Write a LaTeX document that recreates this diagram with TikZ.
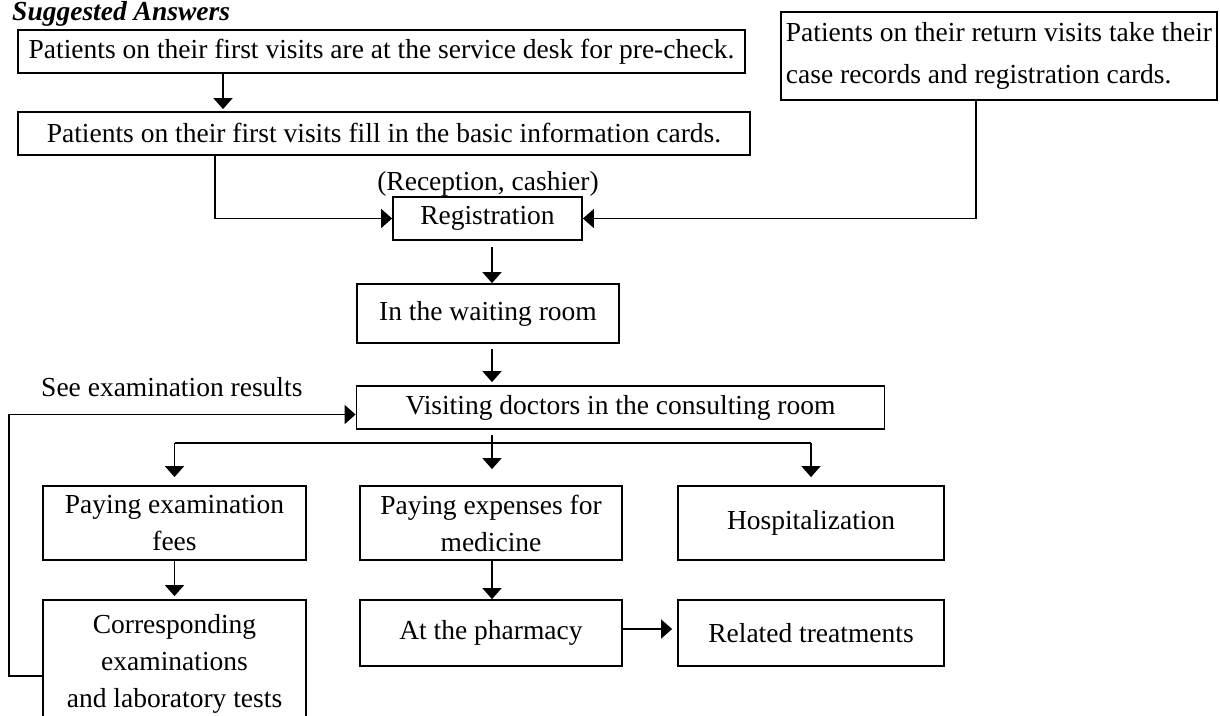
\documentclass[tikz,border=0pt]{standalone}
\usepackage{fontspec}
\setmainfont{Liberation Serif}
\usetikzlibrary{arrows.meta}

\begin{document}
\begin{tikzpicture}[x=1pt,y=-1pt,line width=1.8pt,>={Triangle[width=19pt,length=11pt]},font=\fontsize{27.5}{37}\selectfont]
    \tikzset{block/.style={draw,rectangle,inner sep=0pt,align=center}}
    \clip (0,0) rectangle (1220,715);
    \node[anchor=base west,font=\fontsize{27.5}{37}\selectfont\bfseries\itshape] (title) at (8,20) {Suggested Answers};
    % first visits and return visits
    \node[block,minimum width=727pt,minimum height=43pt] (first1) at (381.5,51.5) {Patients on their first visits are at the service desk for pre-check.};
    \node[block,minimum width=732pt,minimum height=43pt] (first2) at (384,133.5) {Patients on their first visits fill in the basic information cards.};
    \node[block,align=left,minimum width=436pt,minimum height=88pt] (ret) at (999,56) {Patients on their return visits take their\\[5pt]case records and registration cards.};
    % main line
    \node[anchor=base] (recep) at (488,190) {(Reception, cashier)};
    \node[block,minimum width=189pt,minimum height=43pt] (reg) at (487.5,218.5) {Registration};
    \node[block,minimum width=262pt,minimum height=59pt] (wait) at (488,313.5) {In the waiting room};
    \node[block,minimum width=528pt,minimum height=43pt] (visit) at (620.5,407.5) {Visiting doctors in the consulting room};
    \node[anchor=base west] (see) at (37,396) {See examination results};
    % three branches
    \node[block,minimum width=263pt,minimum height=74pt] (fees) at (174.5,523) {Paying examination\\fees};
    \node[block,minimum width=262pt,minimum height=74pt] (med) at (491,523) {Paying expenses for\\medicine};
    \node[block,minimum width=266pt,minimum height=74pt] (hosp) at (811,523) {Hospitalization};
    \node[block,minimum width=263pt,minimum height=128pt] (exam) at (174.5,664) {Corresponding\\examinations\\and laboratory tests};
    \node[block,minimum width=262pt,minimum height=66pt] (pharm) at (491,633) {At the pharmacy};
    \node[block,minimum width=266pt,minimum height=66pt] (rel) at (811,633) {Related treatments};

    \coordinate (c1) at (223,0);
    \coordinate (c2) at (215,0);
    \coordinate (c3) at (976,0);
    \coordinate (split) at (492,443);
    \coordinate (back) at (9,676);

    \draw[->] (first2.south -| c2) |- (reg.west);
    \draw[->] (ret.south -| c3) |- (reg.east);
    \draw[shorten <=5pt] (visit.south -| split) -- (split);
    \draw (split -| fees.north) -- (split -| hosp.north);
    \draw[->] (exam.west |- back) -- (back) |- ([yshift=-7pt]visit.west);
    \path[->]
    (first1.south -| c1) edge [shorten >=2pt] (first2.north -| c1)
    (reg.south -| split) edge [shorten <=6pt] (wait.north -| split)
    (wait.south -| split) edge [shorten <=5pt,shorten >=3pt] (visit.north -| split)
    (split -| fees.north) edge [shorten >=8pt] (fees.north)
    (split) edge [shorten >=16pt] (med.north -| split)
    (split -| hosp.north) edge [shorten >=8pt] (hosp.north)
    (fees.south) edge [shorten >=3pt] (exam.north)
    (med.south -| split) edge (pharm.north -| split)
    ([yshift=4pt]pharm.east) edge [shorten >=5pt] ([yshift=4pt]rel.west)
    ;
\end{tikzpicture}
\end{document}
